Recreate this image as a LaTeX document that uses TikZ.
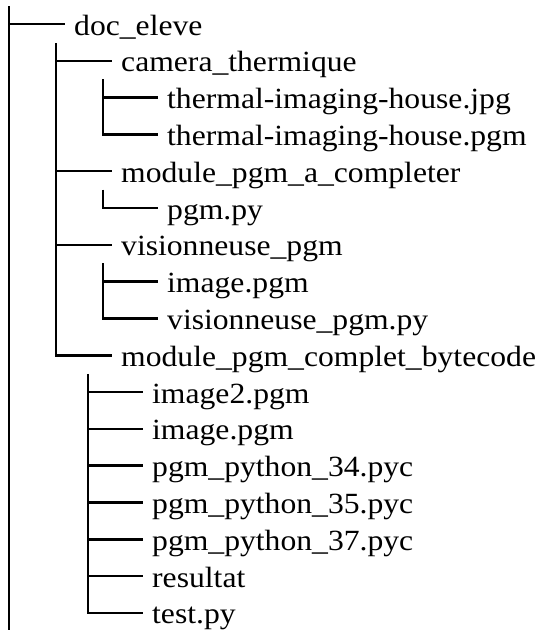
\documentclass[tikz,border=0pt]{standalone}
\usepackage{fontspec}
\setmainfont{Liberation Serif}[FakeStretch=1.08]
\begin{document}
\begin{tikzpicture}[x=1pt,y=1pt,
  treeline/.style={line width=2.5pt},
  item/.style={anchor=west,inner xsep=9pt,inner ysep=0pt,text height=28pt,text depth=6pt,
    font=\fontsize{29.3}{34}\selectfont}]
\useasboundingbox (0,0) rectangle (544,-630);
% row positions
\def\rs{36.81}
% root
\coordinate (rtop) at (9,-6);
\coordinate (rbot) at (9,-630);
\coordinate (r0) at (9,-24);
\node[item] (n0) at (65,-24) {doc\_eleve};
% level 2
\coordinate (atop) at (56,-43);
\node[item] (n1) at (112,{-24-1*\rs}) {camera\_thermique};
\node[item] (n4) at (112,{-24-4*\rs}) {module\_pgm\_a\_completer};
\node[item] (n6) at (112,{-24-6*\rs}) {visionneuse\_pgm};
\node[item] (n9) at (112,{-24-9*\rs}) {module\_pgm\_complet\_bytecode};
% level 3 under camera
\coordinate (btop) at (103,{-24-1*\rs-18.5});
\node[item] (n2) at (158,{-24-2*\rs}) {thermal-imaging-house.jpg};
\node[item] (n3) at (158,{-24-3*\rs}) {thermal-imaging-house.pgm};
% level 3 under module a completer
\coordinate (ctop) at (103,{-24-4*\rs-18.5});
\node[item] (n5) at (158,{-24-5*\rs}) {pgm.py};
% level 3 under visionneuse
\coordinate (dtop) at (103,{-24-6*\rs-18.5});
\node[item] (n7) at (158,{-24-7*\rs}) {image.pgm};
\node[item] (n8) at (158,{-24-8*\rs}) {visionneuse\_pgm.py};
% level 3 under bytecode
\coordinate (etop) at (88,{-24-9*\rs-18.5});
\node[item] (n10) at (143,{-24-10*\rs}) {image2.pgm};
\node[item] (n11) at (143,{-24-11*\rs}) {image.pgm};
\node[item] (n12) at (143,{-24-12*\rs}) {pgm\_python\_34.pyc};
\node[item] (n13) at (143,{-24-13*\rs}) {pgm\_python\_35.pyc};
\node[item] (n14) at (143,{-24-14*\rs}) {pgm\_python\_37.pyc};
\node[item] (n15) at (143,{-24-15*\rs}) {resultat};
\node[item] (n16) at (143,{-24-16*\rs}) {test.py};
% connectors
\draw[treeline] (rtop) -- (rbot);
\draw[treeline] (r0) -- (n0.west);
\draw[treeline] (atop) |- (n9.west);
\foreach \n in {n1,n4,n6} \draw[treeline] (atop |- \n.west) -- (\n.west);
\draw[treeline] (btop) |- (n3.west);
\draw[treeline] (btop |- n2.west) -- (n2.west);
\draw[treeline] (ctop) |- (n5.west);
\draw[treeline] (dtop) |- (n8.west);
\draw[treeline] (dtop |- n7.west) -- (n7.west);
\draw[treeline] (etop) |- (n16.west);
\foreach \n in {n10,n11,n12,n13,n14,n15} \draw[treeline] (etop |- \n.west) -- (\n.west);
\end{tikzpicture}
\end{document}
